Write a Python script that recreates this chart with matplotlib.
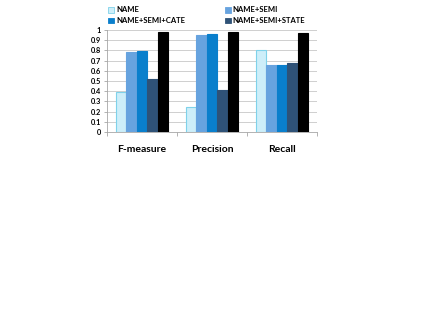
import numpy as np
import matplotlib
matplotlib.use('Agg')
import matplotlib.pyplot as plt
from matplotlib.patches import Patch

plt.rcParams['font.family'] = ['Lato', 'DejaVu Sans']

categories = ['F-measure', 'Precision', 'Recall']
series_names = ['NAME', 'NAME+SEMI', 'NAME+SEMI+CATE', 'NAME+SEMI+STATE', '']
values = [
    [0.39, 0.25, 0.80],   # NAME
    [0.78, 0.95, 0.66],   # NAME+SEMI
    [0.79, 0.96, 0.66],   # NAME+SEMI+CATE
    [0.52, 0.41, 0.68],   # NAME+SEMI+STATE
    [0.98, 0.98, 0.97],   # black, no legend entry
]
face_colors = ['#cdeef9', '#67a3df', '#0a7fcc', '#2f5277', '#000000']
edge_colors = ['#7fd2ea', '#67a3df', '#0a7fcc', '#2f5277', '#000000']
yticks = [0, 0.1, 0.2, 0.3, 0.4, 0.5, 0.6, 0.7, 0.8, 0.9, 1]
ytick_labels = ['0', '0.1', '0.2', '0.3', '0.4', '0.5', '0.6', '0.7', '0.8', '0.9', '1']

fig = plt.figure(figsize=(4.36, 3.27), dpi=100)
ax = fig.add_axes([107/436, 1-132/327, 210/436, 102/327])

x = np.arange(len(categories))
w = 0.15
for i in range(len(values)):
    ax.bar(x + (i - 2) * w, values[i], width=w, color=face_colors[i],
           edgecolor=edge_colors[i], linewidth=0.8, zorder=3)

ax.set_xlim(-0.5, 2.5)
ax.set_ylim(0, 1)
ax.set_yticks(yticks)
ax.set_yticklabels(ytick_labels, fontsize=5.3, fontweight='bold')
ax.set_xticks(x)
ax.set_xticklabels(categories, fontsize=7.5, fontweight='bold')
ax.tick_params(axis='x', length=0, pad=9)
ax.set_xticks([-0.5, 0.5, 1.5, 2.5], minor=True)
ax.tick_params(axis='x', which='minor', length=3, color='#a6a6a6', width=0.6)
ax.tick_params(axis='y', length=2.5, color='#a6a6a6', width=0.6, pad=2)
ax.yaxis.grid(True, color='#c8c8c8', linewidth=0.6, zorder=0)
for s in ['top', 'right']:
    ax.spines[s].set_visible(False)
for s in ['left', 'bottom']:
    ax.spines[s].set_color('#a6a6a6')
    ax.spines[s].set_linewidth(0.6)

# legend is filled row by row in the original, so reorder for ncol=2
order = [0, 2, 1, 3]
handles = [Patch(facecolor=face_colors[i], edgecolor=edge_colors[i], linewidth=0.6)
           for i in order]
labels = [series_names[i] for i in order]
fig.legend(handles, labels, ncol=2, loc='upper left',
           bbox_to_anchor=(103/436, 1 - 1/327), frameon=False,
           prop={'size': 5.5, 'weight': 'bold'}, handlelength=0.8,
           handleheight=0.8, handletextpad=0.2, columnspacing=5.2,
           labelspacing=0.5, borderpad=0.2)

fig.savefig('out.png', dpi=100)
